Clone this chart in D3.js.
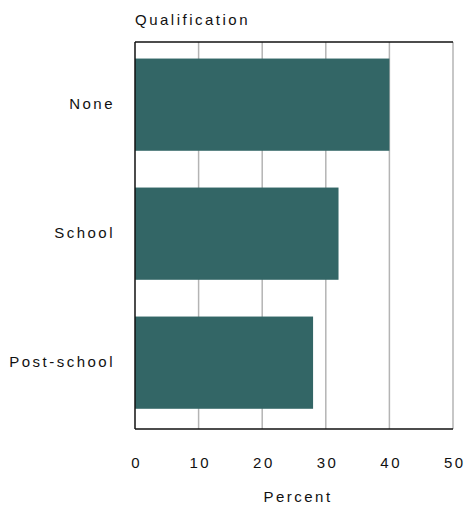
<!DOCTYPE html>
<html>
<head>
<meta charset="utf-8">
<script src="https://cdn.jsdelivr.net/npm/d3@7"></script>
<style>
  body { margin: 0; background: #fff; }
  text { font-family: "Liberation Sans", Arial, sans-serif; font-size: 15px; letter-spacing: 2.5px; fill: #111; }
</style>
</head>
<body>
<div id="chart"></div>
<script>
var categories = ['None', 'School', 'Post-school'];
var values = [40, 32, 28];
var ticks = [0, 10, 20, 30, 40, 50];

var width = 466, height = 507;
var mLeft = 135, mRight = 453, mTop = 42, mBottom = 429;

var svg = d3.select('#chart').append('svg')
  .attr('width', width)
  .attr('height', height);

var x = d3.scaleLinear().domain([0, 50]).range([mLeft, mRight]);
var y = d3.scaleBand().domain(categories).range([mTop, mBottom])
  .paddingInner(0.285).paddingOuter(0.1425).align(0.45);

// grid lines
svg.append('g')
  .selectAll('line')
  .data(ticks.slice(1))
  .enter()
  .append('line')
  .attr('x1', d => x(d)).attr('x2', d => x(d))
  .attr('y1', mTop).attr('y2', mBottom)
  .attr('stroke', '#b4b4b4')
  .attr('stroke-width', 1.5);

// bars
svg.append('g')
  .selectAll('rect')
  .data(values)
  .enter()
  .append('rect')
  .attr('x', x(0))
  .attr('y', (d, i) => y(categories[i]))
  .attr('width', d => x(d) - x(0))
  .attr('height', y.bandwidth())
  .attr('fill', '#336666');

// frame: top, left, bottom black
svg.append('line').attr('x1', mLeft).attr('x2', mRight).attr('y1', mTop).attr('y2', mTop)
  .attr('stroke', '#111').attr('stroke-width', 1.5);
svg.append('line').attr('x1', mLeft).attr('x2', mRight).attr('y1', mBottom).attr('y2', mBottom)
  .attr('stroke', '#111').attr('stroke-width', 1.5);
svg.append('line').attr('x1', mLeft).attr('x2', mLeft).attr('y1', mTop).attr('y2', mBottom)
  .attr('stroke', '#111').attr('stroke-width', 1.5);

// x axis labels
var xAxis = d3.axisBottom(x).tickValues(ticks).tickSize(0).tickPadding(0);
var gx = svg.append('g')
  .attr('transform', 'translate(0,' + (mBottom + 39) + ')')
  .call(xAxis);
gx.select('.domain').remove();
gx.selectAll('text').attr('dy', 0).attr('dx', '1.25').attr('fill', '#111')
  .style('font-size', '15px')
  .style('font-family', '"Liberation Sans", Arial, sans-serif');

// y axis labels
var yAxis = d3.axisLeft(y).tickSize(0).tickPadding(20);
var gy = svg.append('g')
  .attr('transform', 'translate(' + mLeft + ',0)')
  .call(yAxis);
gy.select('.domain').remove();
gy.selectAll('text').attr('fill', '#111')
  .style('font-size', '15px')
  .style('font-family', '"Liberation Sans", Arial, sans-serif');

svg.append('text')
  .attr('x', mLeft)
  .attr('y', 25)
  .text('Qualification');

svg.append('text')
  .attr('x', 298)
  .attr('y', 502)
  .attr('text-anchor', 'middle')
  .text('Percent');
</script>
</body>
</html>
